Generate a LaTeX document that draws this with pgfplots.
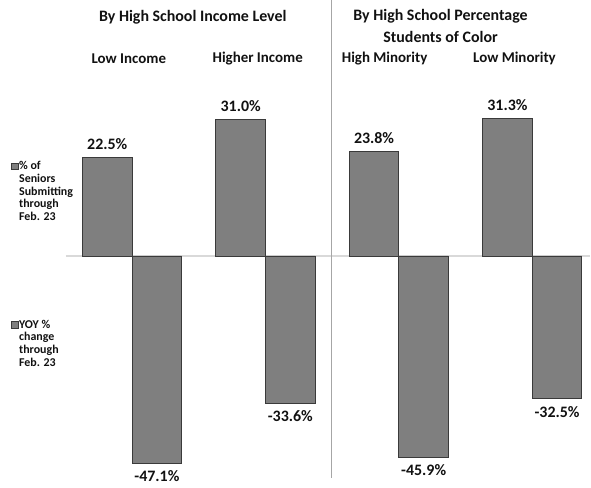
\documentclass[border=0pt]{standalone}
\usepackage{pgfplots}
\pgfplotsset{compat=1.18}
\usepackage{fontspec}
\setmainfont{Carlito}
\definecolor{bargray}{HTML}{7F7F7F}
\definecolor{baredge}{HTML}{3A3A3A}
\definecolor{zerogray}{HTML}{D9D9D9}
\definecolor{sepgray}{HTML}{A6A6A6}
\definecolor{txt}{HTML}{111111}
\newcommand\LF{\bfseries\fontsize{12}{12.75}\selectfont}
\begin{document}
\begin{tikzpicture}[x=1bp,y=1bp]
\path (0,0) rectangle (591,487);
\begin{axis}[
  at={(66bp,0bp)}, anchor=south west, scale only axis,
  width=525bp, height=487bp,
  xmin=-0.496, xmax=3.436, ymin=-52.55, ymax=58.11,
  axis lines=none, clip=false, set layers,
  ybar, bar width=0.372,
  point meta=explicit symbolic,
  legend style={at={(axis description cs:-0.1048,0.6715)}, anchor=north west,
    draw=none, fill=none, inner sep=0pt, row sep=96bp,
    font=\LF, text=txt,
    nodes={align=left, inner sep=1bp, font=\LF},
    cells={anchor=base west},
    /tikz/every even column/.style={column sep=1bp}},
]
\begin{pgfonlayer}{axis background}
\draw[zerogray, line width=1.2bp] (axis cs:-0.496,0) -- (axis cs:3.436,0);
\end{pgfonlayer}
\draw[sepgray, line width=1bp] (axis cs:1.4925,58.11) -- (axis cs:1.4925,-50.5);
\addplot[fill=bargray, draw=baredge, line width=0.8bp, bar shift=-0.186,
  legend image code/.code={\draw[fill=bargray,draw=baredge,line width=0.5bp] (0bp,51bp) rectangle (6.5bp,57.5bp);},
  nodes near coords={\pgfplotspointmeta\%},
  every node near coord/.append style={font=\bfseries\fontsize{16}{19}\selectfont, text=txt, anchor=south, yshift=4bp}]
  coordinates {(0,22.5)[22.5] (1,31.0)[31.0] (2,23.8)[23.8] (3,31.3)[31.3]};
\addlegendentry{\% of\\Seniors\\Submitting\\through\\Feb. 23}
\addplot[fill=bargray, draw=baredge, line width=0.8bp, bar shift=0.186,
  legend image code/.code={\draw[fill=bargray,draw=baredge,line width=0.5bp] (0bp,38.25bp) rectangle (6.5bp,44.75bp);},
  nodes near coords={\pgfplotspointmeta\%},
  every node near coord/.append style={font=\bfseries\fontsize{16}{19}\selectfont, text=txt, anchor=north, yshift=-3.5bp}]
  coordinates {(0,-47.1)[-47.1] (1,-33.6)[-33.6] (2,-45.9)[-45.9] (3,-32.5)[-32.5]};
\addlegendentry{YOY \%\\change\\through\\Feb. 23}
\end{axis}
\begin{scope}[every node/.style={font=\bfseries\fontsize{16}{19}\selectfont, text=txt, inner sep=0pt}]
\node at (193,487-17) {By High School Income Level};
\node at (441,487-16) {By High School Percentage};
\node at (441,487-36) {Students of Color};
\end{scope}
\begin{scope}[every node/.style={font=\bfseries\fontsize{15}{18}\selectfont, text=txt, inner sep=0pt}]
\node at (129,487-58) {Low Income};
\node at (258,487-58) {Higher Income};
\node at (385,487-58) {High Minority};
\node at (515,487-58) {Low Minority};
\end{scope}
\end{tikzpicture}
\end{document}
